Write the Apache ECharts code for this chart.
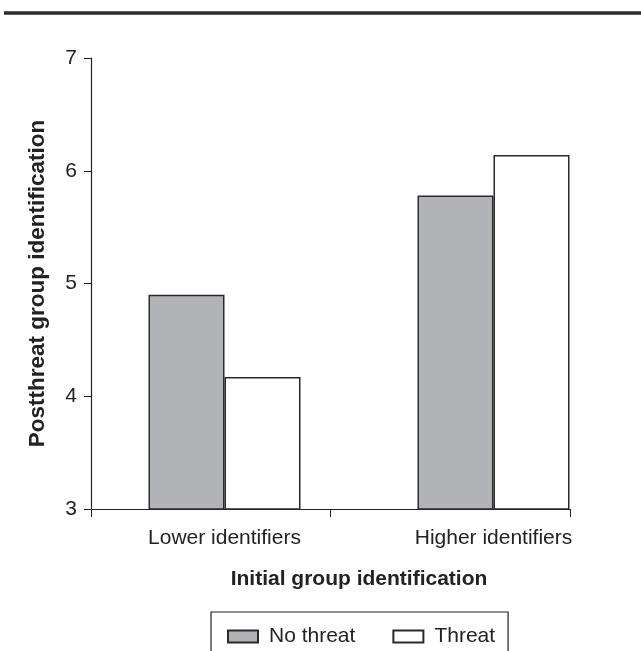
<!DOCTYPE html>
<html>
<head>
<meta charset="utf-8">
<script src="https://cdn.jsdelivr.net/npm/echarts@6/dist/echarts.min.js"></script>
<style>html,body{margin:0;padding:0;background:#fff}#c{width:641px;height:651px}</style>
</head>
<body>
<div id="c"></div>
<script>
const categories = ['Lower identifiers', 'Higher identifiers'];
const seriesNames = ['No threat', 'Threat'];
const noThreat = [4.90, 5.78];
const threat = [4.17, 6.14];
const yTicks = [3, 4, 5, 6, 7];

const chart = echarts.init(document.getElementById('c'));
const font = 'Liberation Sans, Arial, sans-serif';
const barBorder = { borderColor: '#2a2a2a', borderWidth: 1.5 };
chart.setOption({
  animation: false,
  textStyle: { fontFamily: font, color: '#222' },
  graphic: [{
    type: 'line', shape: { x1: 4, y1: 13, x2: 641, y2: 13 },
    style: { stroke: '#2b2b2b', lineWidth: 3.5 }
  }],
  grid: [
    { left: 91, right: 71, top: 58, bottom: 142 },
    { left: 90, width: 538, top: 58, bottom: 142 }
  ],
  xAxis: [
    { gridIndex: 0, type: 'category', data: categories, boundaryGap: true,
      axisLine: { lineStyle: { color: '#222', width: 1.2 } },
      axisTick: { show: true, length: 8, inside: false, lineStyle: { color: '#222' } },
      axisLabel: { show: false } },
    { gridIndex: 1, type: 'category', data: categories,
      axisLine: { show: false }, axisTick: { show: false },
      axisLabel: { show: true, fontSize: 21, color: '#222', margin: 19, fontFamily: font },
      name: 'Initial group identification', nameLocation: 'middle', nameGap: 60,
      nameTextStyle: { fontSize: 21, fontWeight: 'bold', color: '#222', fontFamily: font } }
  ],
  yAxis: [
    { gridIndex: 0, type: 'value', min: yTicks[0], max: yTicks[yTicks.length - 1], interval: 1,
      splitLine: { show: false },
      axisLine: { show: true, lineStyle: { color: '#222', width: 1.2 } },
      axisTick: { show: true, length: 7, lineStyle: { color: '#222' } },
      axisLabel: { fontSize: 21, color: '#222', margin: 14, fontFamily: font },
      name: 'Postthreat group identification', nameLocation: 'middle', nameGap: 42,
      nameTextStyle: { fontSize: 22.5, fontWeight: 'bold', color: '#222', fontFamily: font } },
    { gridIndex: 1, type: 'value', min: yTicks[0], max: yTicks[yTicks.length - 1], interval: 1,
      show: false, splitLine: { show: false } }
  ],
  legend: {
    top: 612, left: 211,
    data: seriesNames,
    icon: 'rect', itemWidth: 30, itemHeight: 12, itemGap: 37,
    borderColor: '#222', borderWidth: 1.2, borderRadius: 0,
    padding: [14, 13, 30, 16],
    textStyle: { fontSize: 21, color: '#222', fontFamily: font, padding: [0, 0, 0, 6] }
  },
  series: [
    { name: seriesNames[0], type: 'bar', xAxisIndex: 1, yAxisIndex: 1, data: noThreat,
      barWidth: 76, barGap: '0%', itemStyle: Object.assign({ color: '#b2b3b7' }, barBorder) },
    { name: seriesNames[1], type: 'bar', xAxisIndex: 1, yAxisIndex: 1, data: threat,
      barWidth: 76, barGap: '0%', itemStyle: Object.assign({ color: '#ffffff' }, barBorder) }
  ]
});
</script>
</body>
</html>
